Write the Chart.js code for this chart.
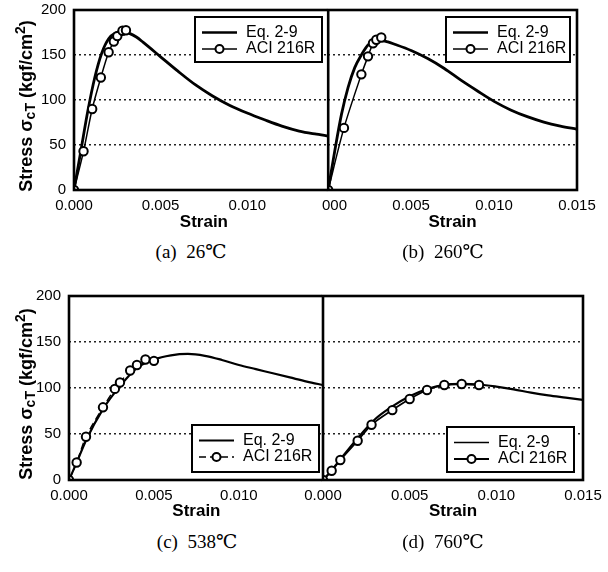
<!DOCTYPE html>
<html><head><meta charset="utf-8">
<script src="https://cdn.jsdelivr.net/npm/chart.js@4.4.0/dist/chart.umd.min.js"></script>
<style>
html,body{margin:0;padding:0;background:#fff;}
#wrap{position:relative;width:608px;height:572px;background:#fff;overflow:hidden;}
canvas{position:absolute;}
.cap{position:absolute;font-family:'Liberation Serif','DejaVu Serif','Noto Sans CJK KR',serif;font-size:19px;color:#000;white-space:pre;transform:translate(-50%,-50%);}
</style></head><body>
<div id="wrap">
<canvas id="cA" width="340" height="234" style="left:0px;top:0px"></canvas>
<canvas id="cC" width="330" height="244" style="left:0px;top:280px"></canvas>
<canvas id="cB" width="286" height="234" style="left:322px;top:0px"></canvas>
<canvas id="cD" width="308" height="244" style="left:300px;top:280px"></canvas>
<div class="cap" id="capA" style="left:191px;top:251px"></div>
<div class="cap" id="capB" style="left:443px;top:251px"></div>
<div class="cap" id="capC" style="left:197px;top:541px"></div>
<div class="cap" id="capD" style="left:443px;top:541px"></div>
</div>
<script>
// ---------- data ----------
const seriesNames = ['Eq. 2-9', 'ACI 216R'];
const captions = ['(a)  26\u2103', '(b)  260\u2103', '(c)  538\u2103', '(d)  760\u2103'];
const yTicks = [0, 50, 100, 150, 200];
const xTicks = [0, 0.005, 0.010, 0.015];

// (a) 26 C
const eqStrainA = [0, 0.0004, 0.0008, 0.0012, 0.0016, 0.002, 0.0024, 0.0028, 0.0032, 0.0036, 0.004, 0.005, 0.006, 0.007, 0.008, 0.009, 0.010, 0.011, 0.012, 0.013, 0.014, 0.015];
const eqStressA = [0, 44, 88, 125, 152, 168, 174.5, 176.5, 174, 170, 164, 148, 132, 117, 104.5, 94, 85.5, 78, 71, 65.5, 62, 59];
const aciStrainA = [0, 0.00055, 0.00105, 0.00155, 0.002, 0.0023, 0.0025, 0.0028, 0.003];
const aciStressA = [0, 43, 90, 125, 153, 165, 171, 177, 177.5];

// (b) 260 C
const eqStrainB = [0, 0.0004, 0.0008, 0.0012, 0.0016, 0.002, 0.0024, 0.0028, 0.0032, 0.0036, 0.004, 0.005, 0.006, 0.007, 0.008, 0.009, 0.010, 0.011, 0.012, 0.013, 0.014, 0.015];
const eqStressB = [0, 44, 84, 114, 136, 150, 161, 165, 166, 164.5, 162, 155, 146, 135, 122, 110, 98.5, 89, 81.5, 75.5, 71, 67.5];
const aciStrainB = [0, 0.00095, 0.002, 0.0024, 0.0027, 0.0029, 0.0032];
const aciStressB = [0, 69, 128.5, 148.5, 163, 167, 169.5];

// (c) 538 C
const eqStrainC = [0, 0.0005, 0.001, 0.002, 0.003, 0.004, 0.005, 0.006, 0.007, 0.008, 0.009, 0.010, 0.011, 0.012, 0.013, 0.014, 0.015];
const eqStressC = [0, 21, 43, 77, 102, 122, 131, 135.5, 137, 135, 130.5, 125, 120.5, 116, 111.5, 107, 103];
const aciStrainC = [0, 0.00045, 0.001, 0.002, 0.0027, 0.003, 0.0036, 0.004, 0.0045, 0.005];
const aciStressC = [0, 19, 47, 79, 99, 106, 119, 125, 131, 129.5];

// (d) 760 C
const eqStrainD = [0, 0.0005, 0.001, 0.002, 0.003, 0.004, 0.005, 0.006, 0.007, 0.008, 0.009, 0.010, 0.011, 0.012, 0.013, 0.014, 0.015];
const eqStressD = [0, 10.5, 22.5, 45.5, 66, 80, 91, 99, 103.5, 104.5, 103.8, 101.5, 98.5, 95, 92, 89.5, 87];
const aciStrainD = [0, 0.0005, 0.001, 0.002, 0.0028, 0.004, 0.005, 0.006, 0.007, 0.008, 0.009];
const aciStressD = [0, 10, 21.7, 42.7, 60, 76, 88, 97.8, 103.3, 104.3, 103.3];

// ---------- helpers ----------
const pts = (xs, ys) => xs.map((x, i) => ({x: x, y: ys[i]}));
const FONT = '"Liberation Sans", Arial, sans-serif';

const panelPlugin = {
  id: 'panel',
  beforeDraw(chart) {
    const o = chart.options.plugins.panel;
    const a = chart.chartArea, ctx = chart.ctx;
    if (o.cover) {
      ctx.save(); ctx.fillStyle = '#fff';
      ctx.fillRect(a.left - 1, a.top - 3, a.right - a.left + 4, a.bottom - a.top + 6);
      ctx.restore();
    }
  },
  afterDatasetsDraw(chart) {
    const a = chart.chartArea, ctx = chart.ctx;
    ctx.save(); ctx.strokeStyle = '#000'; ctx.lineWidth = 2.6; ctx.setLineDash([]);
    ctx.strokeRect(a.left, a.top, a.right - a.left, a.bottom - a.top);
    ctx.restore();
  },
  afterDraw(chart) {
    const o = chart.options.plugins.panel, ctx = chart.ctx;
    const L = o.legend;
    if (L) {
      ctx.save();
      ctx.fillStyle = '#fff'; ctx.fillRect(L.x, L.y, L.w, L.h);
      ctx.strokeStyle = '#000'; ctx.lineWidth = 2; ctx.strokeRect(L.x, L.y, L.w, L.h);
      const r1 = L.y + 15.5, r2 = L.y + 32;
      ctx.beginPath(); ctx.lineWidth = L.eqW; ctx.moveTo(L.x + 7, r1); ctx.lineTo(L.x + 42, r1); ctx.stroke();
      ctx.beginPath(); ctx.lineWidth = L.aciW; ctx.setLineDash(L.aciDash || []);
      ctx.moveTo(L.x + 7, r2); ctx.lineTo(L.x + 42, r2); ctx.stroke(); ctx.setLineDash([]);
      ctx.beginPath(); ctx.arc(L.x + 24.5, r2, 4, 0, Math.PI * 2);
      ctx.fillStyle = '#fff'; ctx.fill(); ctx.lineWidth = 2; ctx.stroke();
      ctx.fillStyle = '#000'; ctx.font = '16px ' + FONT; ctx.textBaseline = 'middle'; ctx.textAlign = 'left';
      ctx.fillText(seriesNames[0], L.x + 51, r1);
      ctx.fillText(seriesNames[1], L.x + 51, r2);
      ctx.restore();
    }
    const T = o.yTitle;
    if (T) {
      ctx.save(); ctx.translate(T.cx, T.cy); ctx.rotate(-Math.PI / 2);
      ctx.fillStyle = '#000'; ctx.textBaseline = 'middle'; ctx.textAlign = 'left';
      const big = 'bold 18px ' + FONT, small = 'bold 14px ' + FONT;
      const parts = [['Stress \u03c3', big, 0], ['cT', small, 4], [' (kgf/cm', big, 0], ['2', small, -6], [')', big, 0]];
      let total = 0;
      parts.forEach(p => { ctx.font = p[1]; total += ctx.measureText(p[0]).width; });
      let x = -total / 2;
      parts.forEach(p => { ctx.font = p[1]; ctx.fillText(p[0], x, p[2]); x += ctx.measureText(p[0]).width; });
      ctx.restore();
    }
  }
};

function makeChart(id, c) {
  const datasets = [
    {label: seriesNames[1], data: pts(c.aciX, c.aciY), borderColor: '#000', borderWidth: c.aciW,
     borderDash: c.aciDash || [], pointRadius: 4.2, pointBorderWidth: 2, pointBackgroundColor: '#fff',
     pointBorderColor: '#000', tension: 0.3, order: 0},
    {label: seriesNames[0], data: pts(c.eqX, c.eqY), borderColor: '#000', borderWidth: c.eqW,
     pointRadius: 0, cubicInterpolationMode: 'monotone', order: 1}
  ];
  return new Chart(document.getElementById(id), {
    type: 'line',
    data: {datasets},
    options: {
      responsive: false, animation: false, devicePixelRatio: 1,
      layout: {padding: {left: 0, top: c.padT, right: c.padR, bottom: 0}},
      plugins: {legend: {display: false}, tooltip: {enabled: false},
        panel: {cover: c.cover, legend: c.legend, yTitle: c.yTitle}},
      scales: {
        x: {type: 'linear', min: 0, max: 0.015,
          afterBuildTicks: s => { s.ticks = xTicks.map(v => ({value: v})); },
          afterFit: s => { s.height = c.xH; s.paddingLeft = 0; s.paddingRight = 0; },
          grid: {display: false, drawTicks: false},
          border: {display: false},
          ticks: {autoSkip: false, maxRotation: 0, padding: 7, color: '#000', font: {family: FONT, size: 15},
            callback: v => (c.hideLast && v > 0.0149) ? '' : v.toFixed(3)},
          title: {display: true, text: 'Strain', color: '#000', font: {family: FONT, size: 17, weight: 'bold'},
            padding: {top: 0, bottom: c.titlePB}}
        },
        y: {type: 'linear', min: 0, max: 200,
          afterBuildTicks: s => { s.ticks = yTicks.map(v => ({value: v})); },
          afterFit: s => { s.width = c.yW; s.paddingTop = 0; s.paddingBottom = 0; },
          grid: {drawTicks: false, lineWidth: 1.4,
            color: ctx => (ctx.tick && (ctx.tick.value === 0 || ctx.tick.value === 200)) ? 'rgba(0,0,0,0)' : '#222'},
          border: {display: false, dash: [2, 3]},
          ticks: {display: c.showY, padding: 8, color: '#000', font: {family: FONT, size: 15}}
        }
      }
    },
    plugins: [panelPlugin]
  });
}

makeChart('cA', {eqX: eqStrainA, eqY: eqStressA, aciX: aciStrainA, aciY: aciStressA, eqW: 2.8, aciW: 1.5,
  yW: 74, padR: 4, padT: 10, xH: 44, titlePB: 1, hideLast: true, showY: true, cover: false,
  legend: {x: 195, y: 17, w: 127, h: 45, eqW: 2.4, aciW: 1.5}, yTitle: {cx: 27, cy: 106}});
makeChart('cC', {eqX: eqStrainC, eqY: eqStressC, aciX: aciStrainC, aciY: aciStressC, eqW: 2.2, aciW: 1.4, aciDash: [7, 4],
  yW: 69, padR: 4.5, padT: 16, xH: 44, titlePB: 2, hideLast: true, showY: true, cover: false,
  legend: {x: 192, y: 145, w: 127, h: 47, eqW: 2, aciW: 1.4, aciDash: [7, 4]}, yTitle: {cx: 27, cy: 114}});
makeChart('cB', {eqX: eqStrainB, eqY: eqStressB, aciX: aciStrainB, aciY: aciStressB, eqW: 2.8, aciW: 1.5,
  yW: 4, padR: 31, padT: 10, xH: 44, titlePB: 1, hideLast: false, showY: false, cover: true,
  legend: {x: 124, y: 17, w: 124, h: 45, eqW: 2.4, aciW: 1.5}});
makeChart('cD', {eqX: eqStrainD, eqY: eqStressD, aciX: aciStrainD, aciY: aciStressD, eqW: 2.2, aciW: 1.8,
  yW: 23, padR: 25, padT: 16, xH: 44, titlePB: 2, hideLast: false, showY: false, cover: true,
  legend: {x: 147, y: 147, w: 127, h: 45, eqW: 1.5, aciW: 1.8}});

document.getElementById('capA').textContent = captions[0];
document.getElementById('capB').textContent = captions[1];
document.getElementById('capC').textContent = captions[2];
document.getElementById('capD').textContent = captions[3];
</script>
</body></html>
